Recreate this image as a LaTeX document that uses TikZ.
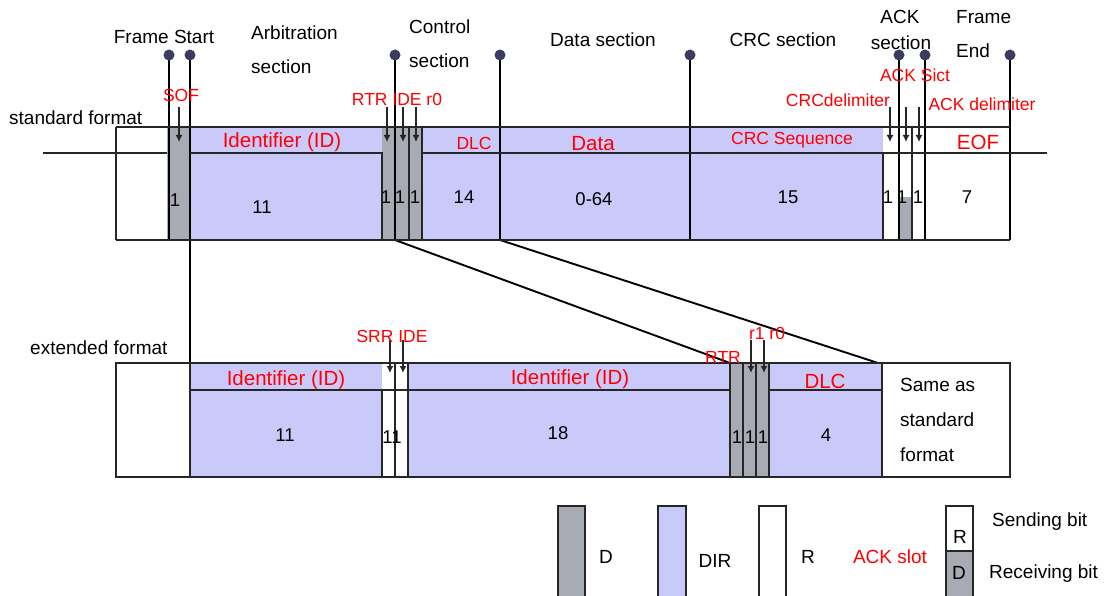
\documentclass[tikz,border=0pt]{standalone}
\usepackage{fontspec}
\setmainfont{Liberation Sans}
\usetikzlibrary{arrows.meta}
\definecolor{dir}{RGB}{202,202,250}
\definecolor{dom}{RGB}{168,170,180}
\definecolor{pin}{RGB}{84,84,118}
\definecolor{pindot}{RGB}{60,60,96}
\definecolor{lab}{RGB}{255,0,0}
\tikzset{
 bl/.style={font=\fontsize{19}{22}\selectfont, inner sep=0pt},
 rl/.style={font=\fontsize{17.5}{20}\selectfont, text=lab, inner sep=0pt},
 rbig/.style={font=\fontsize{20.5}{24}\selectfont, text=lab, inner sep=0pt},
 num/.style={font=\fontsize{18.5}{22}\selectfont, inner sep=0pt},
 edgeline/.style={line width=2.1pt, black!85},
 pinline/.style={line width=1.9pt, pin},
 bitarrow/.style={line width=1.6pt, black!85, -{Latex[length=7pt,width=7pt]}},
}
\begin{document}
\begin{tikzpicture}[x=1pt,y=-1pt]
\useasboundingbox (0,0) rectangle (1107,596);
\clip (0,0) rectangle (1107,596);
\fill[white] (0,0) rectangle (1107,596);

% ---------- standard frame fills ----------
\fill[dom] (167,127) rectangle (190,240);
\fill[dir] (190,127) rectangle (382,240);
\fill[dom] (382,127) rectangle (422,240);
\fill[dir] (422,127) rectangle (883,240);
\fill[dom] (899,197) rectangle (912,240);

% ---------- extended frame fills ----------
\fill[dir] (190,363) rectangle (382,477);
\fill[dir] (408,363) rectangle (730,477);
\fill[dom] (730,363) rectangle (769,477);
\fill[dir] (769,363) rectangle (882,477);

% ---------- pins ----------
\foreach \n/\x in {pa/169,pb/190,pc/395,pd/500,pe/690,pf/899,pg/925,ph/1010}
  \coordinate (\n) at (\x,55);
\coordinate (sb) at (0,240);
\coordinate (eb) at (0,363);
\coordinate (ertr) at (730,363);
\coordinate (esame) at (878,363);
\draw[pinline] (pa) -- (pa |- sb);
\draw[pinline] (pb) -- (pb |- eb);
\draw[pinline] (pc) -- (pc |- sb) -- (ertr);
\draw[pinline] (pd) -- (pd |- sb) -- (esame);
\draw[pinline] (pe) -- (pe |- sb);
\draw[pinline] (pf) -- (pf |- sb);
\draw[pinline] (pg) -- (pg |- sb);
\draw[pinline] (ph) -- (ph |- sb);
\foreach \n in {pa,pb,pc,pd,pe,pf,pg,ph}
  \fill[pindot] (\n) circle (5.5);

% ---------- standard frame lines ----------
\draw[edgeline] (116,127) -- (1010,127);
\draw[edgeline] (116,240) -- (1010,240);
\draw[edgeline] (116,127) -- (116,240);
\draw[edgeline] (43,153) -- (167,153);
\draw[edgeline] (190,153) -- (382,153) -- (382,240);
\draw[edgeline] (409,127) -- (409,240);
\draw[edgeline] (422,127) -- (422,240);
\draw[edgeline] (422,153) -- (883,153);
\draw[edgeline] (883,240) -- (883,153) -- (1047,153);
\draw[edgeline] (912,127) -- (912,240);

% ---------- extended frame lines ----------
\draw[edgeline] (116,363) rectangle (1010,477);
\draw[edgeline] (190,363) -- (190,477);
\draw[edgeline] (190,390) -- (730,390);
\draw[edgeline] (769,390) -- (882,390);
\draw[edgeline] (382,390) -- (382,477);
\foreach \x in {395,408,730,743,756,769,882}
  \draw[edgeline] (\x,363) -- (\x,477);

% ---------- bit arrows ----------
\foreach \x in {179,387,403,416,890,906,919}
  \draw[bitarrow] (\x,107) -- (\x,142);
\foreach \x in {390,403,751,764}
  \draw[bitarrow] (\x,340) -- (\x,373);

% ---------- headers ----------
\node[bl] (hfs) at (164,37) {Frame Start};
\node[bl, anchor=west] (har1) at (251,33) {Arbitration};
\node[bl, anchor=west] (har2) at (251,67) {section};
\node[bl, anchor=west] (hco1) at (409,27) {Control};
\node[bl, anchor=west] (hco2) at (409,61) {section};
\node[bl] (hda) at (603,40) {Data section};
\node[bl] (hcrc) at (783,40) {CRC section};
\node[bl] (hack1) at (900,17) {ACK};
\node[bl] (hack2) at (901,43) {section};
\node[bl, anchor=west] (hfe1) at (956,17) {Frame};
\node[bl, anchor=west] (hfe2) at (956,51) {End};
\node[bl, anchor=west] (lstd) at (9,118) {standard format};
\node[bl, anchor=west] (lext) at (30,348) {extended format};

% ---------- red labels, standard ----------
\node[rl] (tsof) at (181,95) {SOF};
\node[rl] (trtr) at (397,99) {RTR IDE r0};
\node[rbig] (tid) at (282,142) {Identifier (ID)};
\node[rl] (tdlc) at (474,143) {DLC};
\node[rbig] (tdata) at (593,144) {Data};
\node[rl] (tcrc) at (792,140) {CRC Sequence};
\node[rbig] (teof) at (978,142) {EOF};
\node[rl] (tcrcd) at (838,100) {CRCdelimiter};
\node[rl] (tacks) at (915,75) {ACK Sict};
\node[rl] (tackd) at (982,104) {ACK delimiter};

% ---------- numbers, standard ----------
\node[num] (n1) at (175,200) {1};
\node[num] (n2) at (262,207) {11};
\node[num] (n3) at (386,197) {1};
\node[num] (n4) at (400,197) {1};
\node[num] (n5) at (415,197) {1};
\node[num] (n6) at (464,197) {14};
\node[num] (n7) at (594,199) {0-64};
\node[num] (n8) at (788,197) {15};
\node[num] (n9) at (888,197) {1};
\node[num] (n10) at (902,197) {1};
\node[num] (n11) at (918,197) {1};
\node[num] (n12) at (967,197) {7};

% ---------- labels, extended ----------
\node[rl] (esrr) at (392,336) {SRR IDE};
\node[rl] (ertrl) at (723,357) {RTR};
\node[rl] (er1) at (767,333) {r1 r0};
\node[rbig] (eid1) at (286,380) {Identifier (ID)};
\node[rbig] (eid2) at (570,379) {Identifier (ID)};
\node[rbig] (edlc) at (825,381) {DLC};
\node[num] (m1) at (285,435) {11};
\node[num] (m2) at (392,437) {11};
\node[num] (m3) at (558,433) {18};
\node[num] (m4) at (737,437) {1};
\node[num] (m5) at (750,437) {1};
\node[num] (m6) at (763,437) {1};
\node[num] (m7) at (826,435) {4};
\node[bl, anchor=west] (es1) at (900,385) {Same as};
\node[bl, anchor=west] (es2) at (900,420) {standard};
\node[bl, anchor=west] (es3) at (900,455) {format};

% ---------- legend ----------
\draw[edgeline, fill=dom] (558,506) rectangle (585,605);
\draw[edgeline, fill=dir] (658,506) rectangle (686,605);
\draw[edgeline, fill=white] (759,506) rectangle (786,605);
\draw[edgeline, fill=white] (946,506) rectangle (973,551);
\draw[edgeline, fill=dom] (946,551) rectangle (973,605);
\node[bl] (lgd) at (606,557) {D};
\node[bl] (lgdir) at (715,561) {DIR};
\node[bl] (lgr) at (808,557) {R};
\node[bl, text=lab] (lgack) at (890,557) {ACK slot};
\node[bl] (lgr2) at (960,537) {R};
\node[bl] (lgd2) at (959,573) {D};
\node[bl, anchor=west] (lgs) at (992,522) {Sending bit};
\node[bl, anchor=west] (lgrb) at (989,574) {Receiving bit};
\end{tikzpicture}
\end{document}
